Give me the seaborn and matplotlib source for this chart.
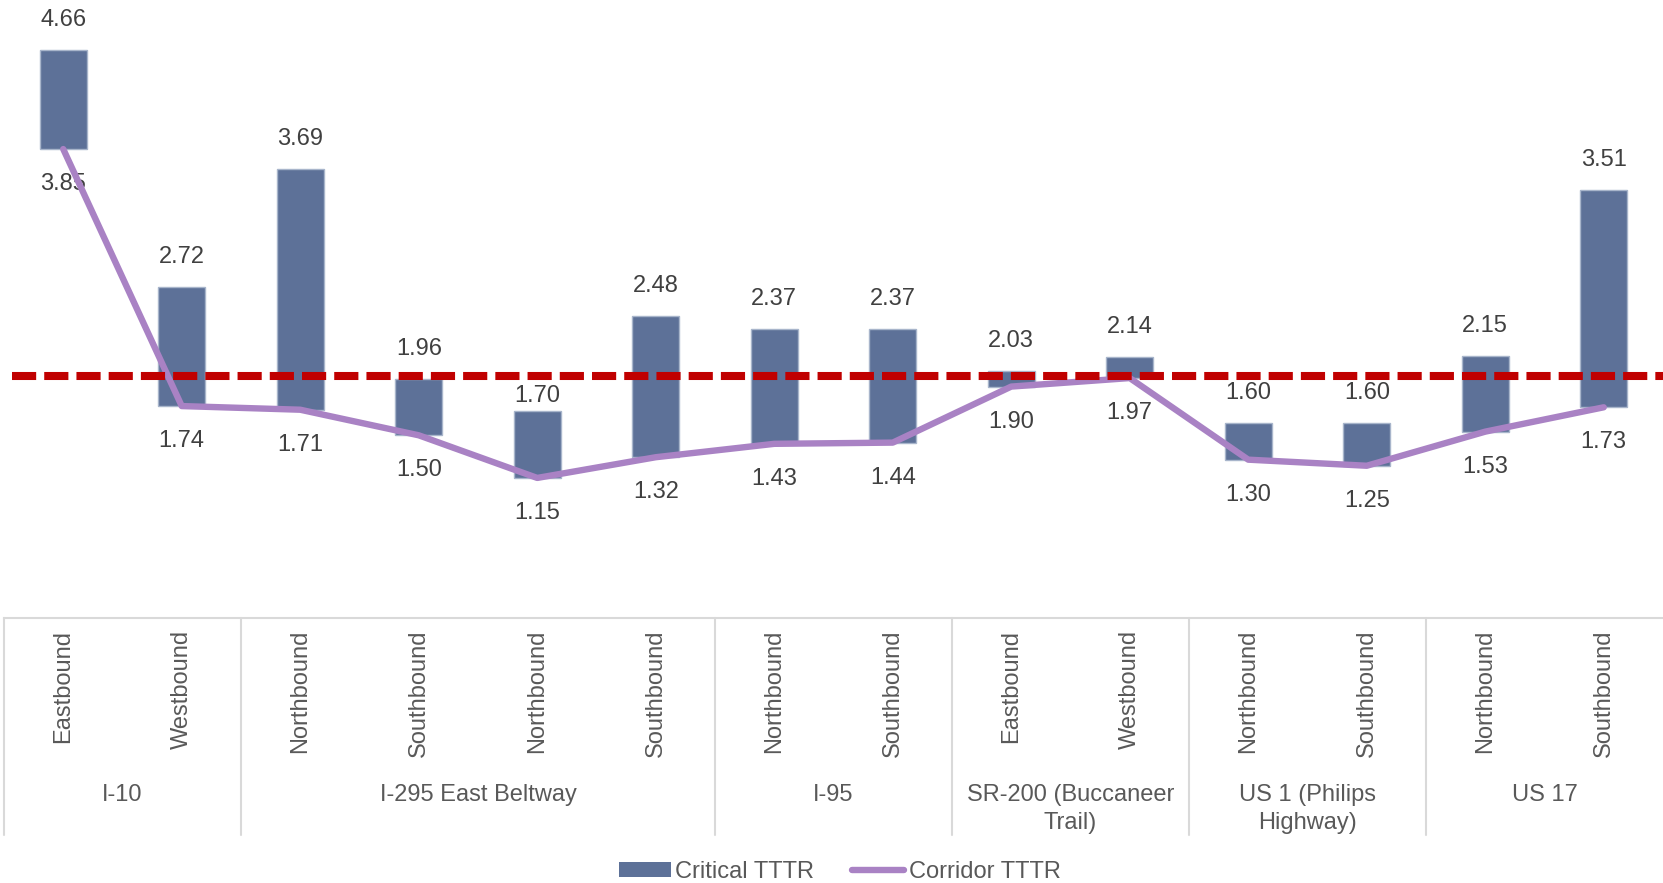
import numpy as np
import pandas as pd
import matplotlib
matplotlib.use("Agg")
import matplotlib.pyplot as plt
from matplotlib.lines import Line2D
from matplotlib.patches import Patch
from matplotlib.transforms import blended_transform_factory
import seaborn as sns

# Data
directions = ["Eastbound", "Westbound", "Northbound", "Southbound", "Northbound",
              "Southbound", "Northbound", "Southbound", "Eastbound", "Westbound",
              "Northbound", "Southbound", "Northbound", "Southbound"]
corridors = ["I-10", "I-295 East Beltway", "I-95", "SR-200 (Buccaneer\nTrail)",
             "US 1 (Philips\nHighway)", "US 17"]
corridor_sizes = [2, 4, 2, 2, 2, 2]
critical_tttr = [4.66, 2.72, 3.69, 1.96, 1.70, 2.48, 2.37, 2.37, 2.03, 2.14, 1.60, 1.60, 2.15, 3.51]
corridor_tttr = [3.85, 1.74, 1.71, 1.50, 1.15, 1.32, 1.43, 1.44, 1.90, 1.97, 1.30, 1.25, 1.53, 1.73]
threshold = 1.99

BAR = "#5D7198"
LINE = "#A982C4"
RED = "#C00000"
GRID = "#D9D9D9"
VAL_TXT = "#404040"
CAT_TXT = "#595959"

sns.set_theme(style="white")
plt.rcParams["font.family"] = ["Liberation Sans", "DejaVu Sans"]

W, H = 1663, 883
fig = plt.figure(figsize=(W / 100, H / 100), dpi=100)
ax_left, ax_right, ax_top, ax_bottom = 4, 1663, 9, 618
ax = fig.add_axes([ax_left / W, 1 - ax_bottom / H, (ax_right - ax_left) / W, (ax_bottom - ax_top) / H])

n = len(directions)
pos = np.arange(n)
df = pd.DataFrame({
    "pos": pos,
    "span": np.array(critical_tttr) - np.array(corridor_tttr),
})

# Floating bars: from corridor TTTR up to critical TTTR
sns.barplot(data=df, x="pos", y="span", color=BAR, width=0.4, saturation=1,
            edgecolor="#A8B5CB", linewidth=1, ax=ax, native_scale=True)
for patch, base in zip(ax.patches, corridor_tttr):
    patch.set_y(base)

# Corridor TTTR line
sns.lineplot(x=pos, y=corridor_tttr, color=LINE, lw=4.6, ax=ax, zorder=4,
             solid_capstyle="round", solid_joinstyle="round")

# Threshold line
ax.axhline(threshold, xmin=0.005, xmax=1, color=RED, lw=5.8, ls=(0, (3, 1)),
           dash_capstyle="butt", zorder=5)

# Value labels (the short I-295 bar keeps its top label clear of the threshold line)
top_offsets = [24] * n
top_offsets[4] = 9
for x, top, bot, off in zip(pos, critical_tttr, corridor_tttr, top_offsets):
    ax.annotate(f"{top:.2f}", (x, top), xytext=(0, off), textcoords="offset pixels",
                ha="center", va="baseline", fontsize=17, color=VAL_TXT,
                annotation_clip=False, zorder=6)
    ax.annotate(f"{bot:.2f}", (x, bot), xytext=(0, -41), textcoords="offset pixels",
                ha="center", va="baseline", fontsize=17, color=VAL_TXT,
                annotation_clip=False, zorder=2)

ax.set_xlim(-0.5, n - 0.5)
ax.set_ylim(0, 5)
ax.set_yticks([])
ax.set_ylabel("")
ax.set_xlabel("")
ax.set_xticks(pos)
ax.set_xticklabels(directions, rotation=90, fontsize=17, color=CAT_TXT, va="top")
ax.tick_params(axis="x", length=0, pad=8.5)
for s in ["top", "right", "left"]:
    ax.spines[s].set_visible(False)
ax.spines["bottom"].set_color(GRID)
ax.spines["bottom"].set_linewidth(1.5)

# Corridor group labels and separators
tr = blended_transform_factory(ax.transData, fig.transFigure)
edges = np.concatenate([[0], np.cumsum(corridor_sizes)]) - 0.5
for e in edges[:-1]:
    fig.add_artist(Line2D([e, e], [1 - ax_bottom / H, 1 - 835 / H], transform=tr,
                          color=GRID, lw=1.5))
for name, a, b in zip(corridors, edges[:-1], edges[1:]):
    fig.text((a + b) / 2, 1 - 784 / H, name, transform=tr, ha="center", va="top",
             fontsize=17, color=CAT_TXT, linespacing=1.35, multialignment="center")

# Legend
handles = [Patch(facecolor=BAR, edgecolor="none"),
           Line2D([0], [0], color=LINE, lw=4.6, solid_capstyle="round")]
fig.legend(handles, ["Critical TTTR", "Corridor TTTR"], loc="center",
           bbox_to_anchor=(0.505, 1 - 872 / H), ncol=2, frameon=False, fontsize=17,
           handlelength=2.2, handleheight=0.6, handletextpad=0.2, columnspacing=1.6,
           labelcolor=CAT_TXT)

fig.savefig("out.png", dpi=100, facecolor="white")
